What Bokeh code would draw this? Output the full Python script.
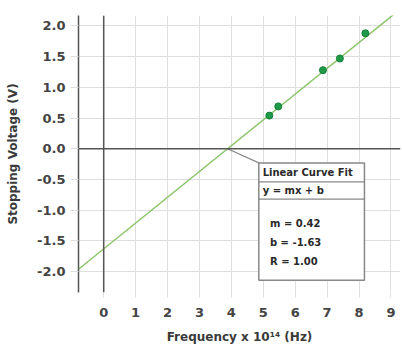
from bokeh.plotting import figure
from bokeh.models import FixedTicker, Range1d, CustomJSTickFormatter, Span, Label
from bokeh.embed import file_html
from bokeh.resources import INLINE

# Data
freq = [5.19, 5.47, 6.87, 7.40, 8.20]      # x 10^14 Hz
voltage = [0.54, 0.69, 1.28, 1.47, 1.88]   # V
slope_m = 0.42
intercept_b = -1.63
r_value = 1.00
x_ticks = [0, 1, 2, 3, 4, 5, 6, 7, 8, 9]
y_ticks = [-2.0, -1.5, -1.0, -0.5, 0.0, 0.5, 1.0, 1.5, 2.0]

FONT = "DejaVu Sans"

p = figure(width=402, height=346, output_backend="svg", toolbar_location=None,
           x_range=Range1d(-0.79, 9.3), y_range=Range1d(-2.34, 2.17),
           min_border_left=78, min_border_right=2, min_border_top=15,
           min_border_bottom=53)
p.outline_line_color = None
p.background_fill_color = "white"

p.xgrid.ticker = FixedTicker(ticks=x_ticks)
p.ygrid.ticker = FixedTicker(ticks=y_ticks)
p.grid.grid_line_color = "#dedede"
p.grid.grid_line_width = 1

p.xaxis.ticker = FixedTicker(ticks=x_ticks)
p.yaxis.ticker = FixedTicker(ticks=y_ticks)
p.yaxis.formatter = CustomJSTickFormatter(code="return tick.toFixed(1);")
p.xaxis.axis_line_color = None
p.yaxis.axis_line_color = "#555555"
p.yaxis.axis_line_width = 1.5
for ax in (p.xaxis, p.yaxis):
    ax.major_tick_line_color = "#dedede"
    ax.major_tick_in = 0
    ax.minor_tick_line_color = None
    ax.major_label_text_font = FONT
    ax.major_label_text_font_size = "13px"
    ax.major_label_text_font_style = "bold"
    ax.major_label_text_color = "#444444"
    ax.axis_label_text_font = FONT
    ax.axis_label_text_font_size = "12px"
    ax.axis_label_text_font_style = "bold"
    ax.axis_label_text_color = "#3a3a3a"
p.xaxis.major_tick_out = 5
p.yaxis.major_tick_out = 8
p.yaxis.major_label_standoff = 5
p.xaxis.major_label_standoff = 10
p.xaxis.axis_label = "Frequency x 10\u00b9\u2074 (Hz)"
p.yaxis.axis_label = "Stopping Voltage (V)"
p.xaxis.axis_label_standoff = 10
p.yaxis.axis_label_standoff = 14

# zero lines
p.add_layout(Span(location=0, dimension="width", line_color="#555555", line_width=1.5))
p.add_layout(Span(location=0, dimension="height", line_color="#555555", line_width=1.5))

# fit line
x0, x1 = -0.79, 9.3
p.line([x0, x1], [slope_m * x0 + intercept_b, slope_m * x1 + intercept_b],
       line_color="#8cc46a", line_width=1.5)

# points
p.scatter(freq, voltage, size=7, fill_color="#1f9a48", line_color="#16803a")

# annotation box
bx0, bx1, by_top, by_bot = 4.86, 8.17, -0.23, -2.14
x_int = -intercept_b / slope_m
p.segment(x0=[x_int], y0=[0], x1=[bx0], y1=[by_top], line_color="#888888", line_width=1.3)
p.quad(left=[bx0], right=[bx1], top=[by_top], bottom=[by_bot],
       fill_color="white", line_color="#888888", line_width=1.5)
p.segment(x0=[bx0, bx0], y0=[-0.54, -0.82], x1=[bx1, bx1], y1=[-0.54, -0.82],
          line_color="#888888", line_width=1.3)

def lab(x, y, t, size="10px"):
    p.add_layout(Label(x=x, y=y, text=t, text_font=FONT, text_font_size=size,
                       text_font_style="bold",
                       text_color="#2a2a2a", text_baseline="middle", text_align="left"))

lab(bx0 + 0.12, -0.385, "Linear Curve Fit")
lab(bx0 + 0.12, -0.68, "y = mx + b")
lab(bx0 + 0.35, -1.22, f"m = {slope_m:.2f}")
lab(bx0 + 0.35, -1.53, f"b = {intercept_b:.2f}")
lab(bx0 + 0.35, -1.84, f"R = {r_value:.2f}")

open("out.html", "w").write(file_html(p, INLINE))
